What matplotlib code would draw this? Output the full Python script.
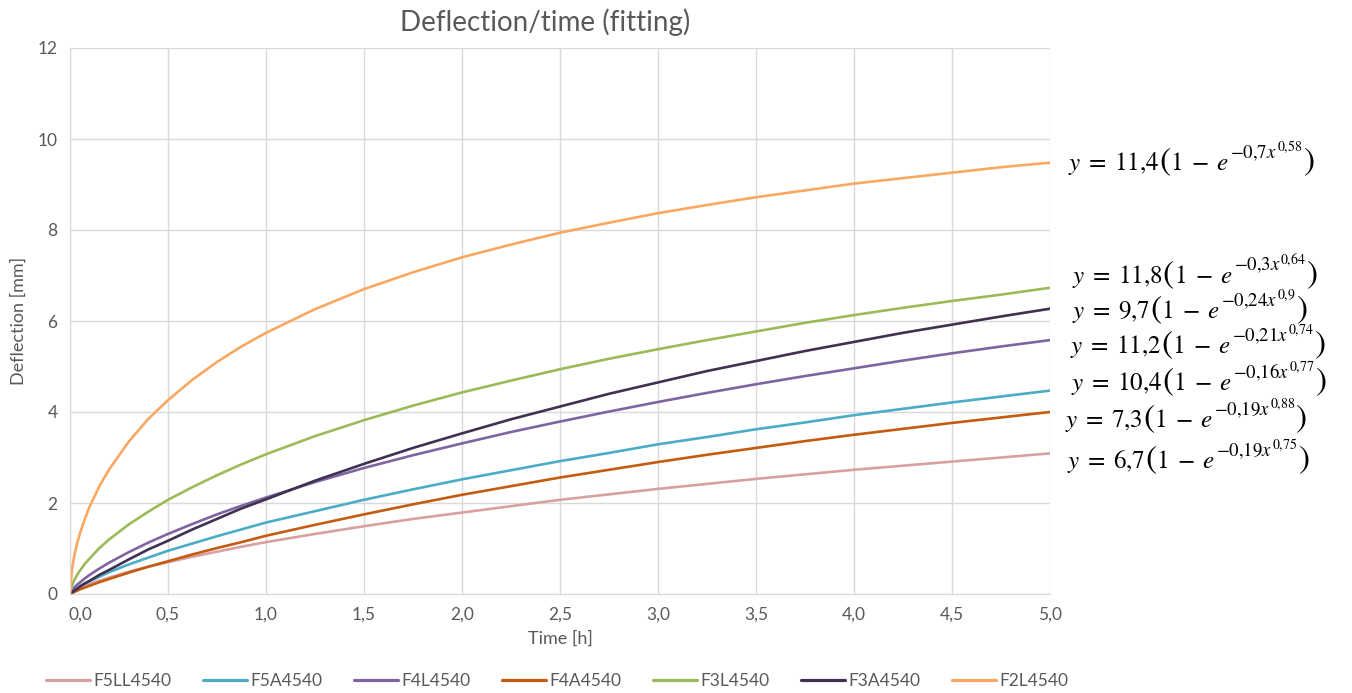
import matplotlib
matplotlib.use("Agg")
import matplotlib.pyplot as plt
import matplotlib.transforms as mtransforms

# Time points [h]
time_h = [0, 0.01, 0.02, 0.035, 0.05, 0.075, 0.1, 0.15, 0.2, 0.3, 0.4, 0.5, 0.625, 0.75, 0.875,
          1.0, 1.25, 1.5, 1.75, 2.0, 2.25, 2.5, 2.75, 3.0, 3.25, 3.5, 3.75, 4.0, 4.25, 4.5, 4.75, 5.0]

# Deflection [mm]
F5LL4540 = [0, 0.04, 0.07, 0.10, 0.13, 0.18, 0.22, 0.29, 0.36, 0.49, 0.60, 0.70, 0.82, 0.93, 1.04,
            1.14, 1.32, 1.49, 1.65, 1.79, 1.93, 2.07, 2.19, 2.31, 2.42, 2.53, 2.63, 2.73, 2.82, 2.91, 3.00, 3.09]
F5A4540 = [0, 0.05, 0.08, 0.13, 0.17, 0.23, 0.28, 0.38, 0.48, 0.65, 0.80, 0.95, 1.11, 1.27, 1.42,
           1.57, 1.82, 2.07, 2.30, 2.52, 2.72, 2.92, 3.10, 3.29, 3.45, 3.62, 3.77, 3.93, 4.07, 4.21, 4.34, 4.47]
F4L4540 = [0, 0.08, 0.13, 0.20, 0.25, 0.34, 0.42, 0.56, 0.69, 0.92, 1.13, 1.32, 1.54, 1.75, 1.94,
           2.12, 2.46, 2.77, 3.05, 3.31, 3.56, 3.79, 4.01, 4.22, 4.42, 4.61, 4.79, 4.96, 5.13, 5.29, 5.44, 5.58]
F4A4540 = [0, 0.02, 0.04, 0.07, 0.10, 0.14, 0.18, 0.26, 0.33, 0.47, 0.60, 0.72, 0.87, 1.01, 1.14,
           1.28, 1.52, 1.75, 1.97, 2.18, 2.37, 2.56, 2.73, 2.90, 3.06, 3.21, 3.36, 3.50, 3.63, 3.76, 3.88, 4.00]
F3L4540 = [0, 0.18, 0.29, 0.41, 0.51, 0.66, 0.78, 1.01, 1.20, 1.53, 1.81, 2.07, 2.35, 2.61, 2.85,
           3.07, 3.47, 3.82, 4.14, 4.43, 4.69, 4.94, 5.17, 5.38, 5.58, 5.77, 5.96, 6.13, 6.29, 6.44, 6.58, 6.73]
F3A4540 = [0, 0.04, 0.07, 0.11, 0.16, 0.23, 0.29, 0.42, 0.53, 0.76, 0.98, 1.17, 1.42, 1.65, 1.88,
           2.08, 2.49, 2.86, 3.21, 3.53, 3.84, 4.12, 4.40, 4.65, 4.90, 5.12, 5.34, 5.54, 5.74, 5.92, 6.10, 6.27]
F2L4540 = [0, 0.54, 0.80, 1.09, 1.32, 1.64, 1.92, 2.37, 2.74, 3.35, 3.85, 4.26, 4.71, 5.10, 5.44,
           5.74, 6.26, 6.70, 7.07, 7.40, 7.68, 7.94, 8.16, 8.37, 8.55, 8.72, 8.87, 9.02, 9.14, 9.26, 9.38, 9.48]

series_names = ["F5LL4540", "F5A4540", "F4L4540", "F4A4540", "F3L4540", "F3A4540", "F2L4540"]
series_values = [F5LL4540, F5A4540, F4L4540, F4A4540, F3L4540, F3A4540, F2L4540]
series_colors = ["#D9A0A0", "#4BACC6", "#8064A2", "#C55A11", "#9BBB59", "#403152", "#F9A862"]

# Fitted equations y = A(1 - e^(-b x^c)), listed top to bottom as shown at right
eq_amp = ["11,4", "11,8", "9,7", "11,2", "10,4", "7,3", "6,7"]
eq_rate = ["0,7", "0,3", "0,24", "0,21", "0,16", "0,19", "0,19"]
eq_pow = ["0,58", "0,64", "0,9", "0,74", "0,77", "0,88", "0,75"]
eq_baseline = [9.32, 6.84, 6.07, 5.30, 4.48, 3.67, 2.77]   # baseline level (data units)
eq_xoff = [18, 22, 22, 20, 21, 15, 17]                     # pixels right of x = 5

x_ticks = [0, 0.5, 1.0, 1.5, 2.0, 2.5, 3.0, 3.5, 4.0, 4.5, 5.0]
x_tick_labels = ["0,0", "0,5", "1,0", "1,5", "2,0", "2,5", "3,0", "3,5", "4,0", "4,5", "5,0"]
y_ticks = [0, 2, 4, 6, 8, 10, 12]

plt.rcParams['font.family'] = ['Lato', 'DejaVu Sans']
plt.rcParams['mathtext.fontset'] = 'stix'
text_color = "#595959"
grid_color = "#D9D9D9"

fig = plt.figure(figsize=(13.52, 6.93), dpi=100)
ax = fig.add_axes([70 / 1352, 1 - 594 / 693, 980 / 1352, 546 / 693])

for name, vals, col in zip(series_names, series_values, series_colors):
    ax.plot(time_h, vals, color=col, lw=1.9, label=name, solid_capstyle='round')

ax.set_xlim(0, 5)
ax.set_ylim(0, 12)
ax.set_xticks(x_ticks)
ax.set_xticklabels(x_tick_labels)
ax.set_yticks(y_ticks)
ax.grid(True, color=grid_color, lw=1)
ax.set_axisbelow(True)
for s in ["top", "right"]:
    ax.spines[s].set_visible(False)
for s in ["left", "bottom"]:
    ax.spines[s].set_color(grid_color)
ax.tick_params(length=0, labelsize=12.5, labelcolor=text_color, pad=9)

lbl0 = ax.get_xticklabels()[0]
lbl0.set_transform(lbl0.get_transform() + mtransforms.ScaledTranslation(10 / 100, 0, fig.dpi_scale_trans))

ax.set_xlabel("Time [h]", fontsize=13, color=text_color, labelpad=6)
ax.set_ylabel("Deflection [mm]", fontsize=13, color=text_color, labelpad=8)

fig.text(545 / 1352, 1 - 22 / 693, "Deflection/time (fitting)", fontsize=20,
         color=text_color, ha="center", va="center")

# Equations built from pieces so that exponents and brackets are sized like the reference
renderer = fig.canvas.get_renderer()
for A, b, c, yb, xo in zip(eq_amp, eq_rate, eq_pow, eq_baseline, eq_xoff):
    A_m = A.replace(",", "{,}")
    b_m = b.replace(",", "{,}")
    c_m = c.replace(",", "{,}")
    pieces = [
        (r"$y\;=\;%s$" % A_m, 18, 0, 0),
        (r"$($", 24, 0, -1),
        (r"$1\;-\;e$", 18, 0, 1),
        (r"$-%sx$" % b_m, 13.5, 12, 0),
        (r"$%s$" % c_m, 10, 19, 0),
        (r"$)$", 24, 0, 0),
    ]
    x = xo
    for s, fs, dy, gap in pieces:
        t = ax.annotate(s, xy=(5.0, yb), xycoords="data", xytext=(x, dy),
                        textcoords="offset pixels", ha="left", va="baseline",
                        fontsize=fs, color="black", annotation_clip=False)
        bb = t.get_window_extent(renderer)
        x += bb.width + gap

leg = fig.legend(loc="center", bbox_to_anchor=(557 / 1352, 1 - 681 / 693), ncol=7,
                 frameon=False, fontsize=12.5, handlelength=2.55, handletextpad=0.2,
                 columnspacing=1.8)
for t in leg.get_texts():
    t.set_color(text_color)
for l in leg.get_lines():
    l.set_linewidth(2.3)

fig.savefig("out.png", dpi=100)
